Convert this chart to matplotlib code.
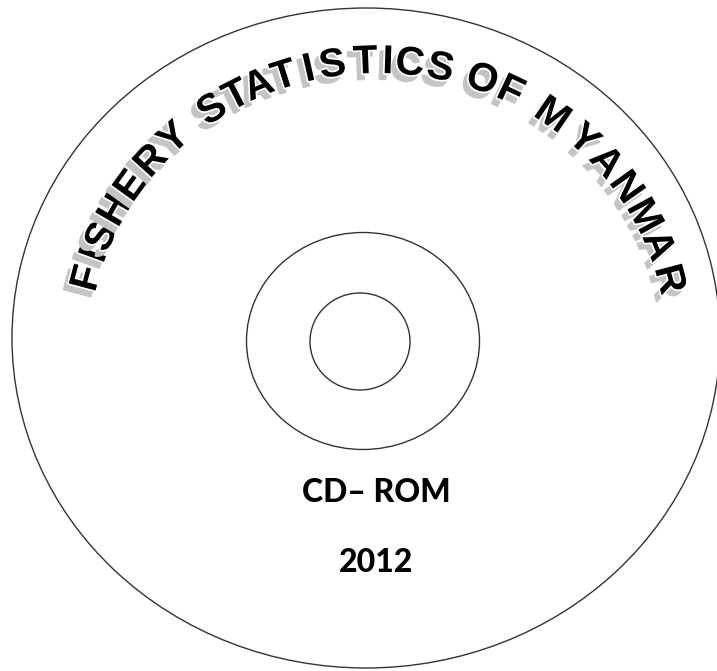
import numpy as np
import matplotlib.pyplot as plt
from matplotlib.patches import Ellipse
import matplotlib.patheffects as pe

W, H = 717, 671

# disc outlines: centre x, centre y, width, height (pixels)
rings = [(366, 338, 708, 660), (363, 341, 233, 217), (360, 341.5, 100, 97)]

# arched title, one angle (degrees on the text ellipse) per letter
title = "FISHERY STATISTICS OF MYANMAR"
letters = [c for c in title if c != ' ']
angles = [165.6, 160.8, 156.9, 151.0, 145.3, 139.0, 132.8,
          123.5, 118.1, 113.4, 108.2, 103.3, 98.7, 92.4, 88.1, 83.9, 78.0,
          69.7, 63.8,
          54.5, 46.8, 40.6, 34.3, 27.6, 21.2, 14.2]
arc_cx, arc_cy, arc_rx, arc_ry = 378, 350, 300, 288

labels = ["CD\u2013 ROM", "2012"]
label_y = [492, 563]

fig = plt.figure(figsize=(W / 100, H / 100), dpi=100)
ax = fig.add_axes([0, 0, 1, 1])
ax.set_xlim(0, W)
ax.set_ylim(H, 0)
ax.axis('off')

for cx, cy, w, h in rings:
    ax.add_patch(Ellipse((cx, cy), w, h, fill=False, ec='#333333', lw=1.0))

for ch, a in zip(letters, angles):
    t = np.radians(a)
    x = arc_cx + arc_rx * np.cos(t)
    y = arc_cy - arc_ry * np.sin(t)
    rot = np.degrees(np.arctan2(np.sin(t) / arc_ry, np.cos(t) / arc_rx)) - 90
    # grey drop shadow, down-left
    ax.text(x - 5, y + 6, ch, fontsize=29, family='Liberation Sans', weight='bold',
            color='#c4c4c4', ha='center', va='center', rotation=rot,
            rotation_mode='anchor',
            path_effects=[pe.withStroke(linewidth=1.5, foreground='#c4c4c4')])
    ax.text(x, y, ch, fontsize=29, family='Liberation Sans', weight='bold',
            color='black', ha='center', va='center', rotation=rot,
            rotation_mode='anchor',
            path_effects=[pe.withStroke(linewidth=2.5, foreground='white')])

for s, y in zip(labels, label_y):
    ax.text(376, y, s, fontsize=23, family='Lato', weight=900,
            ha='center', va='center', color='black')

fig.savefig('out.png', dpi=100)
